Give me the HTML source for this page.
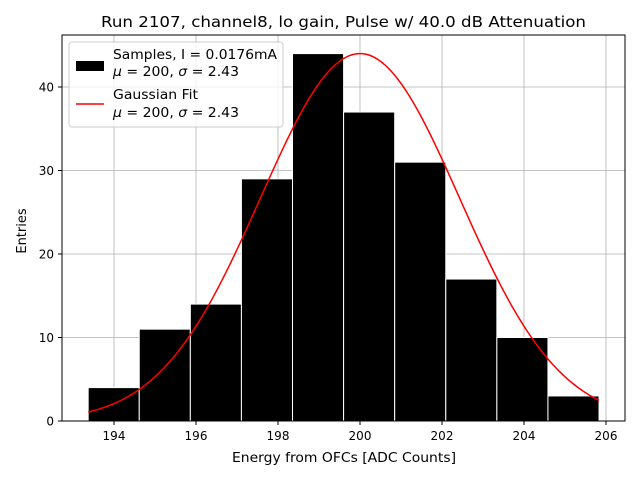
<!DOCTYPE html>
<html><head><meta charset="utf-8"><style>
body{margin:0;background:#fff;}
svg text{font-family:"DejaVu Sans","Liberation Sans",sans-serif;}
</style></head><body>
<svg width="640" height="480" viewBox="0 0 640 480">
<rect width="640" height="480" fill="#fff"/>
<g id="grid"></g>
<g id="bars"></g>
<path id="fit" fill="none" stroke="#ff0000" stroke-width="1.5"/>
<rect x="62" y="35" width="563" height="386" fill="none" stroke="#000" stroke-width="1"/>
<g id="ticks"></g>
<text x="101" y="27" font-size="15.5" textLength="485" lengthAdjust="spacingAndGlyphs">Run 2107, channel8, lo gain, Pulse w/ 40.0 dB Attenuation</text>
<text x="232" y="462" font-size="13" textLength="224" lengthAdjust="spacingAndGlyphs">Energy from OFCs [ADC Counts]</text>
<text transform="translate(26,231) rotate(-90)" font-size="13" text-anchor="middle">Entries</text>
<g>
<rect x="69" y="42" width="214" height="85" rx="3" fill="#fff" fill-opacity="0.8" stroke="#ccc"/>
<rect x="76" y="61" width="28" height="10" fill="#000"/>
<text x="113" y="59" font-size="13" textLength="164" lengthAdjust="spacingAndGlyphs">Samples, I = 0.0176mA</text>
<text x="113" y="76" font-size="13" textLength="126" lengthAdjust="spacingAndGlyphs"><tspan font-style="italic">μ</tspan> = 200, <tspan font-style="italic">σ</tspan> = 2.43</text>
<line x1="76" y1="104" x2="104" y2="104" stroke="#ff0000" stroke-width="1.5"/>
<text x="113" y="99" font-size="13" textLength="85" lengthAdjust="spacingAndGlyphs">Gaussian Fit</text>
<text x="113" y="117" font-size="13" textLength="126" lengthAdjust="spacingAndGlyphs"><tspan font-style="italic">μ</tspan> = 200, <tspan font-style="italic">σ</tspan> = 2.43</text>
</g>
</svg>
<script>
const binStart = 193.37;
const binWidth = 1.246;
const counts = [4, 11, 14, 29, 44, 37, 31, 17, 10, 3];
const xTicks = [194, 196, 198, 200, 202, 204, 206];
const yTicks = [0, 10, 20, 30, 40];
const fitMu = 200, fitSigma = 2.43, fitAmp = 44;

const NS = "http://www.w3.org/2000/svg";
const X = v => 114 + (v - 194) * 41;
const Y = v => 421 - v * 8.35;
const grid = document.getElementById('grid'), bars = document.getElementById('bars'), ticks = document.getElementById('ticks');
function mk(tag, attrs, parent){const e=document.createElementNS(NS,tag);for(const k in attrs)e.setAttribute(k,attrs[k]);parent.appendChild(e);return e;}
xTicks.forEach(t=>{
  const g=mk('line',{x1:X(t),x2:X(t),y1:35,y2:421,stroke:'#b0b0b0','stroke-width':0.8},grid);
  
  
  const tk=mk('line',{x1:X(t),x2:X(t),y1:421,y2:425,stroke:'#000'},ticks);
  
  
  const tx=mk('text',{x:X(t),y:440,'font-size':12,'text-anchor':'middle'},ticks);
  tx.textContent=t;
  
  
});
yTicks.forEach(t=>{
  const g=mk('line',{x1:62,x2:625,y1:Y(t),y2:Y(t),stroke:'#b0b0b0','stroke-width':0.8},grid);
  
  
  const tk=mk('line',{x1:58,x2:62,y1:Y(t),y2:Y(t),stroke:'#000'},ticks);
  
  
  const tx=mk('text',{x:54,y:Y(t)+4.5,'font-size':12,'text-anchor':'end'},ticks);
  tx.textContent=t;
  
  
});
counts.forEach((c,i)=>{
  const x0=X(binStart+i*binWidth), x1=X(binStart+(i+1)*binWidth);
  const r=mk('rect',{x:x0,y:Y(c),width:x1-x0,height:Y(0)-Y(c),fill:'#000',stroke:'#fff','stroke-width':1},bars);
  
  
});
let d='';
const xEnd=binStart+counts.length*binWidth;
for(let i=0;i<=200;i++){
  const v=binStart+(xEnd-binStart)*i/200;
  const y=fitAmp*Math.exp(-((v-fitMu)**2)/(2*fitSigma*fitSigma));
  d+=(i?'L':'M')+X(v).toFixed(2)+','+Y(y).toFixed(2);
}
document.getElementById('fit').setAttribute('d',d);
</script>
</body></html>
